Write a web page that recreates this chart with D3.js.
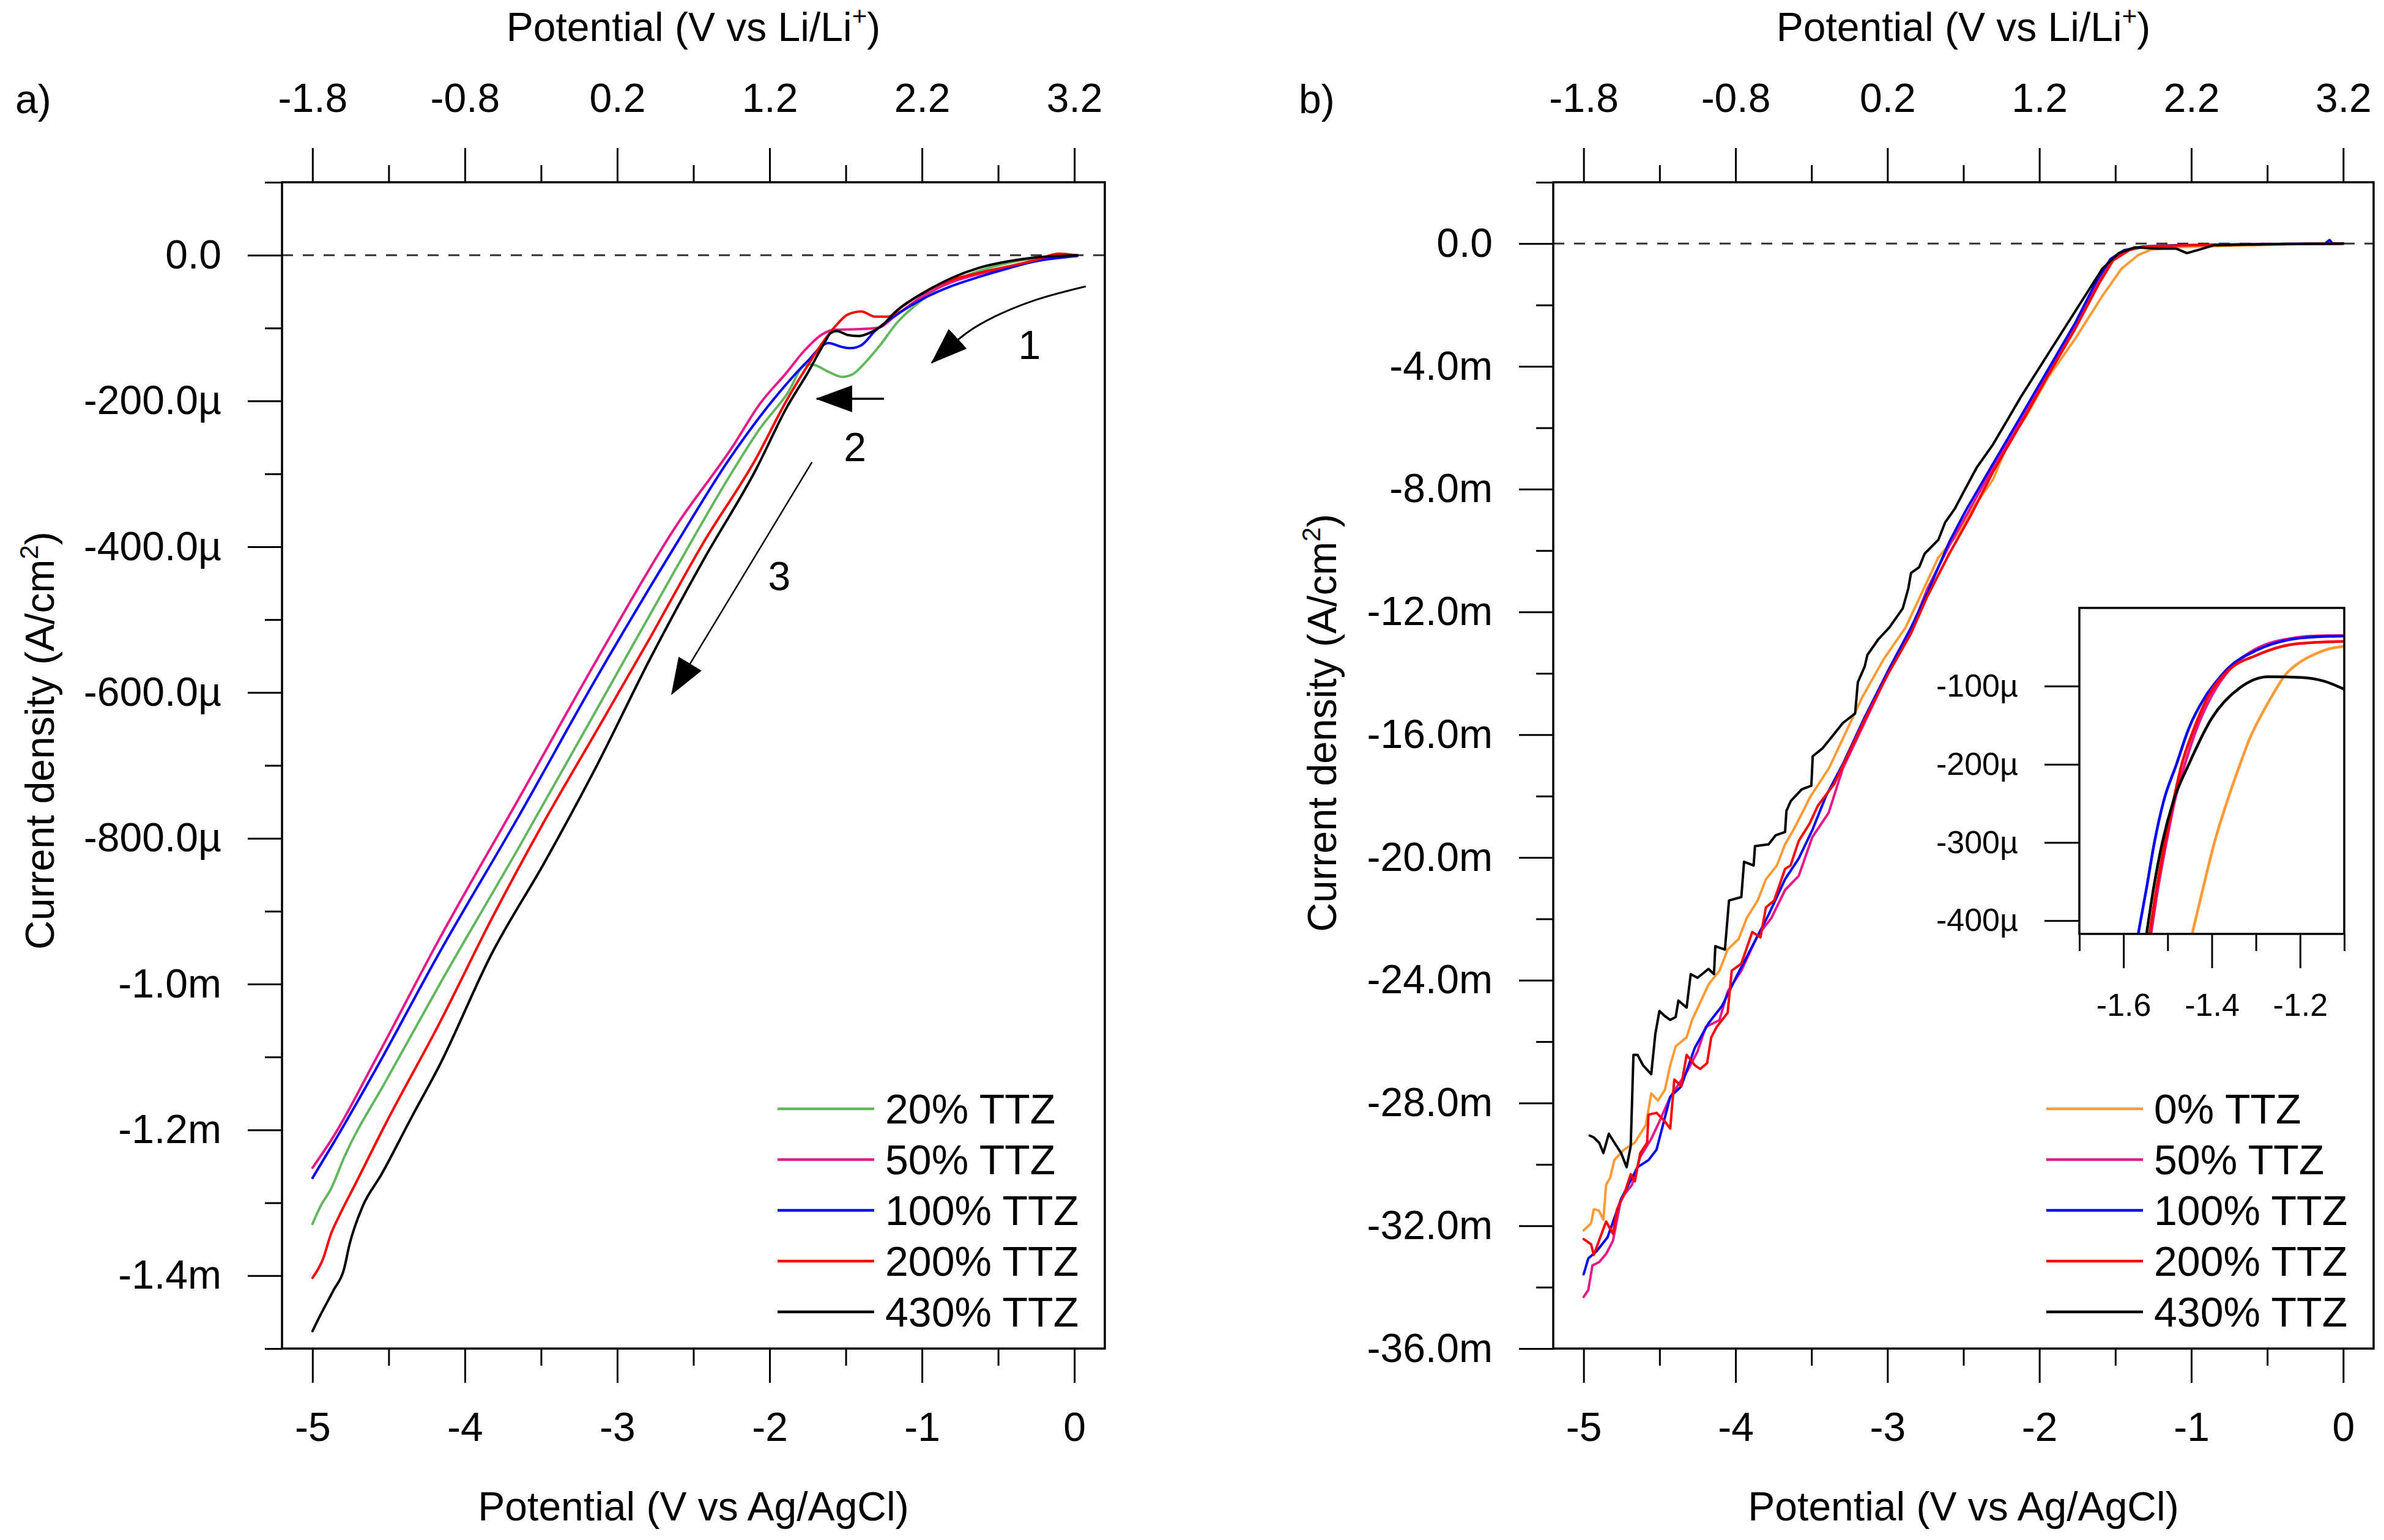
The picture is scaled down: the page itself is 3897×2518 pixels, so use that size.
<!DOCTYPE html>
<html lang="en">
<head>
    <meta charset="UTF-8">
    <title>Current density vs potential</title>
    <script src="https://d3js.org/d3.v7.min.js"></script>
    <style>
        body { margin: 0; background: #fff; }
    </style>
</head>
<body>
    <svg id="chart"></svg>

    <script>
        const W = 3897, H = 2518;
        const FONT = '"Liberation Sans", Arial, Helvetica, sans-serif';

        // shared potential axis (V vs Ag/AgCl); top axis is V vs Li/Li+
        const potentialTicks = [-5, -4, -3, -2, -1, 0];
        const potentialLabels = ["-5", "-4", "-3", "-2", "-1", "0"];
        const potentialMinor = [-4.5, -3.5, -2.5, -1.5, -0.5];
        const liLabels = ["-1.8", "-0.8", "0.2", "1.2", "2.2", "3.2"];

        // panel a, current density in µA/cm2
        const aTicks = [0, -200, -400, -600, -800, -1000, -1200, -1400];
        const aTickLabels = ["0.0", "-200.0µ", "-400.0µ", "-600.0µ", "-800.0µ", "-1.0m", "-1.2m", "-1.4m"];
        const aMinor = [100, -100, -300, -500, -700, -900, -1100, -1300, -1500];

        const a20 = [[-5.0,-1329],[-4.948,-1305],[-4.879,-1281],[-4.793,-1238],[-4.516,-1132],[-4.17,-1002],[-3.65,-814],[-3.131,-622],[-2.612,-429],[-2.265,-304],[-2.064,-238],[-1.884,-190],[-1.767,-151],[-1.722,-150],[-1.614,-160],[-1.524,-167],[-1.452,-163],[-1.38,-149],[-1.273,-123],[-1.165,-93],[-1.021,-65],[-0.895,-45],[-0.715,-28.5],[-0.535,-16],[-0.355,-7.5],[-0.175,-3.4],[0.02,-1]];
        const a50 = [[-5.0,-1252],[-4.862,-1209],[-4.585,-1103],[-4.17,-939],[-3.65,-747],[-3.131,-554],[-2.612,-371],[-2.244,-263],[-2.064,-204],[-1.884,-160],[-1.776,-132],[-1.65,-108],[-1.578,-102.5],[-1.434,-101.6],[-1.29,-99.6],[-1.165,-81.5],[-0.985,-55],[-0.805,-37],[-0.625,-25.7],[-0.445,-17.3],[-0.265,-7.5],[-0.085,-2.8],[0.02,-1]];
        const a100 = [[-5.0,-1266],[-4.862,-1218],[-4.585,-1117],[-4.17,-958],[-3.65,-771],[-3.131,-578],[-2.612,-396],[-2.265,-280],[-1.919,-184],[-1.758,-147],[-1.614,-120.7],[-1.524,-126],[-1.47,-127.6],[-1.398,-123.5],[-1.308,-104],[-1.165,-81.5],[-0.985,-59],[-0.805,-42.4],[-0.625,-29.8],[-0.445,-18.7],[-0.265,-8.9],[-0.085,-3.4],[0.02,-1]];
        const a200 = [[-5.0,-1403],[-4.931,-1377],[-4.879,-1343],[-4.827,-1319],[-4.723,-1276],[-4.516,-1190],[-4.17,-1055],[-3.823,-910],[-3.477,-776],[-3.131,-651],[-2.785,-525],[-2.439,-396],[-2.092,-280],[-1.885,-198],[-1.746,-150],[-1.642,-117],[-1.56,-95.5],[-1.488,-81.5],[-1.398,-77.3],[-1.308,-84.3],[-1.219,-84.3],[-1.129,-70.4],[-0.985,-51],[-0.805,-34],[-0.625,-24.3],[-0.445,-15.9],[-0.265,-7.5],[-0.1,2],[0.02,-0.5]];
        const a430 = [[-5.0,-1476],[-4.948,-1454],[-4.862,-1420],[-4.793,-1391],[-4.758,-1358],[-4.671,-1305],[-4.55,-1262],[-4.343,-1180],[-4.17,-1113],[-3.823,-958],[-3.477,-833],[-3.131,-699],[-2.785,-554],[-2.439,-420],[-2.092,-295],[-1.885,-208],[-1.746,-160],[-1.642,-121],[-1.6,-107],[-1.56,-104],[-1.488,-109.5],[-1.416,-111],[-1.344,-106.7],[-1.273,-98.3],[-1.165,-76],[-0.985,-51],[-0.805,-31.3],[-0.625,-17.3],[-0.445,-8.9],[-0.265,-3.4],[-0.085,-1],[0.02,0]];
        const labelsA = ["20% TTZ", "50% TTZ", "100% TTZ", "200% TTZ", "430% TTZ"];

        // panel b, current density in mA/cm2
        const bTicks = [0, -4, -8, -12, -16, -20, -24, -28, -32, -36];
        const bTickLabels = ["0.0", "-4.0m", "-8.0m", "-12.0m", "-16.0m", "-20.0m", "-24.0m", "-28.0m", "-32.0m", "-36.0m"];
        const bMinor = [2, -2, -6, -10, -14, -18, -22, -26, -30, -34];

        const b0 = [[-5.0,-32.15],[-4.951,-31.92],[-4.933,-31.46],[-4.9,-31.5],[-4.87,-31.8],[-4.852,-30.66],[-4.825,-30.43],[-4.798,-29.86],[-4.735,-29.52],[-4.663,-29.29],[-4.591,-28.72],[-4.555,-27.69],[-4.51,-27.92],[-4.465,-27.57],[-4.43,-26.77],[-4.394,-26.15],[-4.322,-25.86],[-4.286,-25.29],[-4.232,-24.72],[-4.178,-24.14],[-4.106,-23.69],[-4.052,-23.0],[-3.98,-22.66],[-3.926,-21.97],[-3.854,-21.4],[-3.8,-20.71],[-3.728,-20.26],[-3.674,-19.57],[-3.62,-19.11],[-3.549,-18.43],[-3.51,-18.04],[-3.384,-17.08],[-3.276,-15.94],[-3.168,-14.8],[-3.024,-13.53],[-2.881,-12.51],[-2.773,-11.37],[-2.665,-10.22],[-2.557,-9.59],[-2.449,-8.7],[-2.305,-7.68],[-2.197,-6.41],[-2.09,-5.65],[-1.946,-4.38],[-1.766,-3.11],[-1.586,-1.71],[-1.46,-0.82],[-1.352,-0.38],[-1.263,-0.19],[-1.137,-0.12],[-0.939,-0.09],[-0.6,-0.05],[-0.3,-0.02],[0,0]];
        const b50 = [[-5.0,-34.32],[-4.969,-34.09],[-4.942,-33.29],[-4.897,-33.18],[-4.85,-32.9],[-4.807,-32.49],[-4.753,-31.12],[-4.681,-30.66],[-4.627,-29.75],[-4.555,-29.17],[-4.501,-28.6],[-4.43,-27.8],[-4.322,-27.0],[-4.25,-26.32],[-4.196,-25.52],[-4.106,-25.3],[-4.052,-24.37],[-3.962,-23.69],[-3.854,-22.54],[-3.764,-21.97],[-3.674,-21.06],[-3.584,-20.6],[-3.495,-19.34],[-3.387,-18.54],[-3.294,-17.1],[-3.15,-15.6],[-2.988,-13.9],[-2.845,-12.6],[-2.737,-11.24],[-2.593,-9.84],[-2.485,-8.89],[-2.305,-7.3],[-2.125,-5.78],[-1.946,-4.19],[-1.766,-2.66],[-1.604,-1.14],[-1.514,-0.47],[-1.406,-0.19],[-1.3,-0.09],[-1.0,-0.05],[-0.5,-0.02],[0,0]];
        const b100 = [[-5.0,-33.58],[-4.969,-33.06],[-4.915,-32.83],[-4.843,-32.38],[-4.753,-31.12],[-4.645,-30.09],[-4.573,-29.86],[-4.52,-29.52],[-4.43,-27.8],[-4.358,-27.46],[-4.268,-26.2],[-4.178,-25.4],[-4.088,-24.83],[-3.998,-23.92],[-3.89,-22.89],[-3.782,-21.86],[-3.674,-20.71],[-3.584,-20.03],[-3.495,-19.11],[-3.405,-18.0],[-3.294,-16.96],[-3.15,-15.43],[-2.988,-13.84],[-2.845,-12.51],[-2.737,-11.37],[-2.593,-9.72],[-2.485,-8.7],[-2.305,-7.17],[-2.125,-5.65],[-1.946,-4.13],[-1.766,-2.6],[-1.622,-1.2],[-1.532,-0.5],[-1.442,-0.21],[-1.316,-0.09],[-1.1,-0.05],[-0.8,-0.03],[-0.4,-0.01],[-0.12,0],[-0.09,0.12],[-0.07,0],[0,0]];
        const b200 = [[-5.0,-32.43],[-4.951,-32.6],[-4.933,-32.95],[-4.9,-32.5],[-4.852,-31.86],[-4.807,-32.26],[-4.78,-31.46],[-4.735,-31.0],[-4.69,-30.32],[-4.663,-30.55],[-4.627,-29.63],[-4.582,-29.29],[-4.573,-28.38],[-4.52,-28.32],[-4.465,-28.6],[-4.43,-28.83],[-4.403,-27.23],[-4.358,-27.45],[-4.322,-26.43],[-4.268,-26.77],[-4.232,-26.89],[-4.187,-26.7],[-4.16,-25.86],[-4.124,-25.52],[-4.052,-25.06],[-4.025,-23.69],[-3.962,-23.46],[-3.89,-22.43],[-3.836,-22.6],[-3.8,-21.63],[-3.746,-21.4],[-3.674,-20.37],[-3.638,-20.26],[-3.584,-19.46],[-3.512,-18.89],[-3.458,-18.31],[-3.35,-17.6],[-3.294,-17.0],[-3.15,-15.5],[-2.988,-13.95],[-2.845,-12.7],[-2.737,-11.49],[-2.593,-10.1],[-2.449,-8.83],[-2.305,-7.43],[-2.125,-5.9],[-1.946,-4.32],[-1.766,-2.79],[-1.604,-1.27],[-1.514,-0.54],[-1.406,-0.21],[-1.3,-0.09],[-1.0,-0.05],[-0.5,-0.02],[0,0]];
        const b430 = [[-4.96,-29.06],[-4.933,-29.12],[-4.897,-29.3],[-4.87,-29.63],[-4.834,-29.0],[-4.79,-29.35],[-4.753,-29.63],[-4.717,-30.09],[-4.69,-29.4],[-4.672,-26.43],[-4.645,-26.43],[-4.609,-26.77],[-4.555,-27.06],[-4.528,-25.75],[-4.501,-25.0],[-4.465,-25.17],[-4.43,-25.29],[-4.394,-25.2],[-4.376,-24.66],[-4.322,-24.89],[-4.295,-23.8],[-4.25,-23.92],[-4.178,-23.63],[-4.142,-23.8],[-4.133,-22.89],[-4.07,-23.0],[-4.043,-21.4],[-3.962,-21.29],[-3.944,-20.14],[-3.881,-20.26],[-3.872,-19.63],[-3.782,-19.57],[-3.737,-19.28],[-3.674,-19.17],[-3.665,-18.48],[-3.636,-18.16],[-3.564,-17.78],[-3.501,-17.66],[-3.492,-16.7],[-3.429,-16.45],[-3.366,-16.07],[-3.294,-15.62],[-3.213,-15.31],[-3.195,-14.29],[-3.15,-13.78],[-3.132,-13.4],[-3.06,-12.89],[-2.988,-12.51],[-2.899,-11.88],[-2.863,-11.24],[-2.845,-10.73],[-2.791,-10.54],[-2.755,-10.1],[-2.665,-9.65],[-2.62,-9.08],[-2.557,-8.64],[-2.503,-8.13],[-2.413,-7.3],[-2.305,-6.54],[-2.215,-5.78],[-2.125,-5.02],[-1.946,-3.62],[-1.766,-2.22],[-1.586,-0.82],[-1.478,-0.31],[-1.371,-0.12],[-1.227,-0.16],[-1.101,-0.16],[-1.029,-0.31],[-0.957,-0.21],[-0.85,-0.05],[-0.5,-0.02],[0,0]];
        const labelsB = ["0% TTZ", "50% TTZ", "100% TTZ", "200% TTZ", "430% TTZ"];

        // inset of panel b, µA/cm2
        const inXTicks = [-1.6, -1.4, -1.2];
        const inXLabels = ["-1.6", "-1.4", "-1.2"];
        const inXMinor = [-1.7, -1.5, -1.3, -1.1];
        const inYTicks = [-100, -200, -300, -400];
        const inYLabels = ["-100µ", "-200µ", "-300µ", "-400µ"];

        const in0 = [[-1.445,-418],[-1.42,-359],[-1.394,-300],[-1.365,-247],[-1.336,-200],[-1.314,-167],[-1.285,-134],[-1.26,-109],[-1.234,-86],[-1.202,-70],[-1.17,-60],[-1.132,-52],[-1.1,-49]];
        const in50 = [[-1.538,-418],[-1.522,-359],[-1.503,-300],[-1.484,-247],[-1.461,-200],[-1.436,-157],[-1.4,-112],[-1.356,-76.5],[-1.305,-54],[-1.209,-38],[-1.164,-35.7],[-1.1,-35.4]];
        const in100 = [[-1.567,-418],[-1.548,-359],[-1.53,-300],[-1.509,-247],[-1.48,-200],[-1.452,-154],[-1.413,-112],[-1.388,-93],[-1.362,-76.5],[-1.298,-54],[-1.228,-41],[-1.164,-37],[-1.1,-36]];
        const in200 = [[-1.541,-418],[-1.525,-359],[-1.506,-300],[-1.487,-247],[-1.468,-200],[-1.442,-157],[-1.407,-112],[-1.362,-79.7],[-1.298,-60.4],[-1.209,-46],[-1.1,-42.8]];
        const in430 = [[-1.548,-418],[-1.532,-359],[-1.512,-300],[-1.487,-247],[-1.452,-200],[-1.4,-141],[-1.336,-102],[-1.272,-88],[-1.196,-89],[-1.144,-94],[-1.1,-104]];

        // annotation arrows of panel a, in data units (V, µA/cm2)
        const arrow1 = [[0.075,-42.8],[-0.25,-61.2],[-0.519,-83.9],[-0.7,-105.7],[-0.936,-147.7]];
        const arrow2 = [[-1.249,-197],[-1.691,-197]];
        const arrow3 = [[-1.722,-284],[-2.642,-602]];
        const arrowLabels = [["1",-0.294,-122.5],["2",-1.44,-262.6],["3",-1.936,-440]];

        const GREEN = "#62b75e", PINK = "#e8168a", BLUE = "#0000ff", RED = "#ff0000", BLACK = "#000000", ORANGE = "#ff9a35";

        const svg = d3.select("#chart").attr("width", W).attr("height", H);
        svg.append("rect").attr("width", W).attr("height", H).attr("fill", "#fff");

        const defs = svg.append("defs");
        defs.append("marker")
            .attr("id", "head")
            .attr("markerUnits", "userSpaceOnUse")
            .attr("markerWidth", 62).attr("markerHeight", 44)
            .attr("refX", 58).attr("refY", 22)
            .attr("orient", "auto")
            .append("path")
            .attr("d", "M0,0L60,22L0,44Z")
            .attr("fill", "#000");

        let clipId = 0;

        function addAxis(g, gen, transform, size) {
            const a = g.append("g").attr("transform", transform).call(gen);
            a.attr("font-size", size).attr("font-family", FONT);
            a.select(".domain").remove();
            a.selectAll(".tick line").attr("stroke", "#000").attr("stroke-width", 3);
            a.selectAll(".tick text").attr("fill", "#000");
            return a;
        }

        function lookup(values, labels) {
            return d => labels[values.indexOf(d)];
        }

        function plot(opt) {
            const f = opt.frame;
            const x = d3.scaleLinear().domain(opt.xDomain).range([f.left, f.right]);
            const y = d3.scaleLinear().domain(opt.yDomain).range([f.bottom, f.top]);
            const g = svg.append("g");

            g.append("rect")
                .attr("x", f.left).attr("y", f.top)
                .attr("width", f.right - f.left).attr("height", f.bottom - f.top)
                .attr("fill", "#fff");

            const id = "clip" + (clipId++);
            defs.append("clipPath").attr("id", id)
                .append("rect")
                .attr("x", f.left).attr("y", f.top)
                .attr("width", f.right - f.left).attr("height", f.bottom - f.top);

            const inner = g.append("g").attr("clip-path", `url(#${id})`);

            if (opt.zeroLine) {
                inner.append("line")
                    .attr("x1", f.left).attr("x2", f.right)
                    .attr("y1", y(0)).attr("y2", y(0))
                    .attr("stroke", "#333").attr("stroke-width", 3)
                    .attr("stroke-dasharray", "18,16");
            }

            const line = d3.line()
                .x(d => x(d[0]))
                .y(d => y(d[1]))
                .curve(opt.curve);

            inner.selectAll("path.series")
                .data(opt.series)
                .enter()
                .append("path")
                .attr("class", "series")
                .attr("d", d => line(d))
                .attr("fill", "none")
                .attr("stroke", (d, i) => opt.colors[i])
                .attr("stroke-width", opt.lineWidth)
                .attr("stroke-linejoin", "round")
                .attr("stroke-linecap", "round");

            g.append("rect")
                .attr("x", f.left).attr("y", f.top)
                .attr("width", f.right - f.left).attr("height", f.bottom - f.top)
                .attr("fill", "none")
                .attr("stroke", "#000").attr("stroke-width", 3.5);

            return { x, y, g };
        }

        function mainAxes(p, f, yTicks, yLabels, yMinor) {
            const g = p.g;
            addAxis(g, d3.axisLeft(p.y).tickValues(yTicks).tickFormat(lookup(yTicks, yLabels))
                .tickSize(56).tickPadding(43), `translate(${f.left},0)`, 66);
            addAxis(g, d3.axisLeft(p.y).tickValues(yMinor).tickFormat("").tickSize(28),
                `translate(${f.left},0)`, 66);
            addAxis(g, d3.axisBottom(p.x).tickValues(potentialTicks).tickFormat(lookup(potentialTicks, potentialLabels))
                .tickSize(56).tickPadding(48), `translate(0,${f.bottom})`, 66);
            addAxis(g, d3.axisBottom(p.x).tickValues(potentialMinor).tickFormat("").tickSize(28),
                `translate(0,${f.bottom})`, 66);
            addAxis(g, d3.axisTop(p.x).tickValues(potentialTicks).tickFormat(lookup(potentialTicks, liLabels))
                .tickSize(56).tickPadding(59), `translate(0,${f.top})`, 66);
            addAxis(g, d3.axisTop(p.x).tickValues(potentialMinor).tickFormat("").tickSize(28),
                `translate(0,${f.top})`, 66);
        }

        function titles(f, panelLetter, letterX, yTitleX, yTitleY) {
            const cx = (f.left + f.right) / 2;

            const top = svg.append("text")
                .attr("x", cx).attr("y", 67)
                .attr("text-anchor", "middle")
                .attr("font-family", FONT).attr("font-size", 66);
            top.append("tspan").text("Potential (V vs Li/Li");
            top.append("tspan").attr("dy", -26).attr("font-size", 42).text("+");
            top.append("tspan").attr("dy", 26).text(")");

            svg.append("text")
                .attr("x", cx).attr("y", 2486)
                .attr("text-anchor", "middle")
                .attr("font-family", FONT).attr("font-size", 66)
                .text("Potential (V vs Ag/AgCl)");

            const left = svg.append("text")
                .attr("transform", `translate(${yTitleX},${yTitleY}) rotate(-90)`)
                .attr("text-anchor", "middle")
                .attr("font-family", FONT).attr("font-size", 66);
            left.append("tspan").text("Current density (A/cm");
            left.append("tspan").attr("dy", -26).attr("font-size", 42).text("2");
            left.append("tspan").attr("dy", 26).text(")");

            svg.append("text")
                .attr("x", letterX).attr("y", 185)
                .attr("font-family", FONT).attr("font-size", 66)
                .text(panelLetter);
        }

        function legend(f, labels, colors) {
            const g = svg.append("g");
            const x0 = f.right - 535, x1 = f.right - 377;
            labels.forEach((lab, i) => {
                const yy = f.bottom - 392 + i * 83;
                g.append("line")
                    .attr("x1", x0).attr("x2", x1)
                    .attr("y1", yy).attr("y2", yy)
                    .attr("stroke", colors[i]).attr("stroke-width", 4.5);
                g.append("text")
                    .attr("x", x1 + 18).attr("y", yy)
                    .attr("dy", "0.36em")
                    .attr("font-family", FONT).attr("font-size", 68)
                    .text(lab);
            });
        }

        // ---- panel a ----
        const frameA = { left: 461, right: 1806, top: 298, bottom: 2205 };
        const colorsA = [GREEN, PINK, BLUE, RED, BLACK];
        const pa = plot({
            frame: frameA, xDomain: [-5.2, 0.2], yDomain: [-1500, 100],
            series: [a20, a50, a100, a200, a430], colors: colorsA,
            curve: d3.curveMonotoneX, lineWidth: 4, zeroLine: true
        });
        mainAxes(pa, frameA, aTicks, aTickLabels, aMinor);
        titles(frameA, "a)", 25, 88, 1211);
        legend(frameA, labelsA, colorsA);

        // arrows
        const arrowLine = d3.line().x(d => pa.x(d[0])).y(d => pa.y(d[1]));
        pa.g.append("path")
            .attr("d", arrowLine.curve(d3.curveCatmullRom)(arrow1))
            .attr("fill", "none").attr("stroke", "#000").attr("stroke-width", 3)
            .attr("marker-end", "url(#head)");
        pa.g.append("path")
            .attr("d", arrowLine.curve(d3.curveLinear)(arrow2))
            .attr("fill", "none").attr("stroke", "#000").attr("stroke-width", 3.5)
            .attr("marker-end", "url(#head)");
        pa.g.append("path")
            .attr("d", arrowLine.curve(d3.curveLinear)(arrow3))
            .attr("fill", "none").attr("stroke", "#000").attr("stroke-width", 2.5)
            .attr("marker-end", "url(#head)");
        pa.g.selectAll("text.anno")
            .data(arrowLabels)
            .enter()
            .append("text")
            .attr("class", "anno")
            .attr("x", d => pa.x(d[1]))
            .attr("y", d => pa.y(d[2]))
            .attr("dy", "0.36em")
            .attr("text-anchor", "middle")
            .attr("font-family", FONT).attr("font-size", 66)
            .text(d => d[0]);

        // ---- panel b ----
        const frameB = { left: 2539, right: 3880, top: 298, bottom: 2205 };
        const colorsB = [ORANGE, PINK, BLUE, RED, BLACK];
        const pb = plot({
            frame: frameB, xDomain: [-5.2, 0.2], yDomain: [-36, 2],
            series: [b0, b50, b100, b200, b430], colors: colorsB,
            curve: d3.curveLinear, lineWidth: 4, zeroLine: true
        });
        mainAxes(pb, frameB, bTicks, bTickLabels, bMinor);
        titles(frameB, "b)", 2123, 2184, 1182);
        legend(frameB, labelsB, colorsB);

        // ---- inset ----
        const frameIn = { left: 3399, right: 3832, top: 994, bottom: 1527 };
        const pi = plot({
            frame: frameIn, xDomain: [-1.7, -1.1], yDomain: [-417, 0],
            series: [in0, in50, in100, in200, in430], colors: colorsB,
            curve: d3.curveMonotoneX, lineWidth: 4.5, zeroLine: false
        });
        addAxis(pi.g, d3.axisLeft(pi.y).tickValues(inYTicks).tickFormat(lookup(inYTicks, inYLabels))
            .tickSize(57).tickPadding(43), `translate(${frameIn.left},0)`, 52);
        addAxis(pi.g, d3.axisBottom(pi.x).tickValues(inXTicks).tickFormat(lookup(inXTicks, inXLabels))
            .tickSize(56).tickPadding(41), `translate(0,${frameIn.bottom})`, 52);
        addAxis(pi.g, d3.axisBottom(pi.x).tickValues(inXMinor).tickFormat("").tickSize(28),
            `translate(0,${frameIn.bottom})`, 52);
    </script>
</body>
</html>
